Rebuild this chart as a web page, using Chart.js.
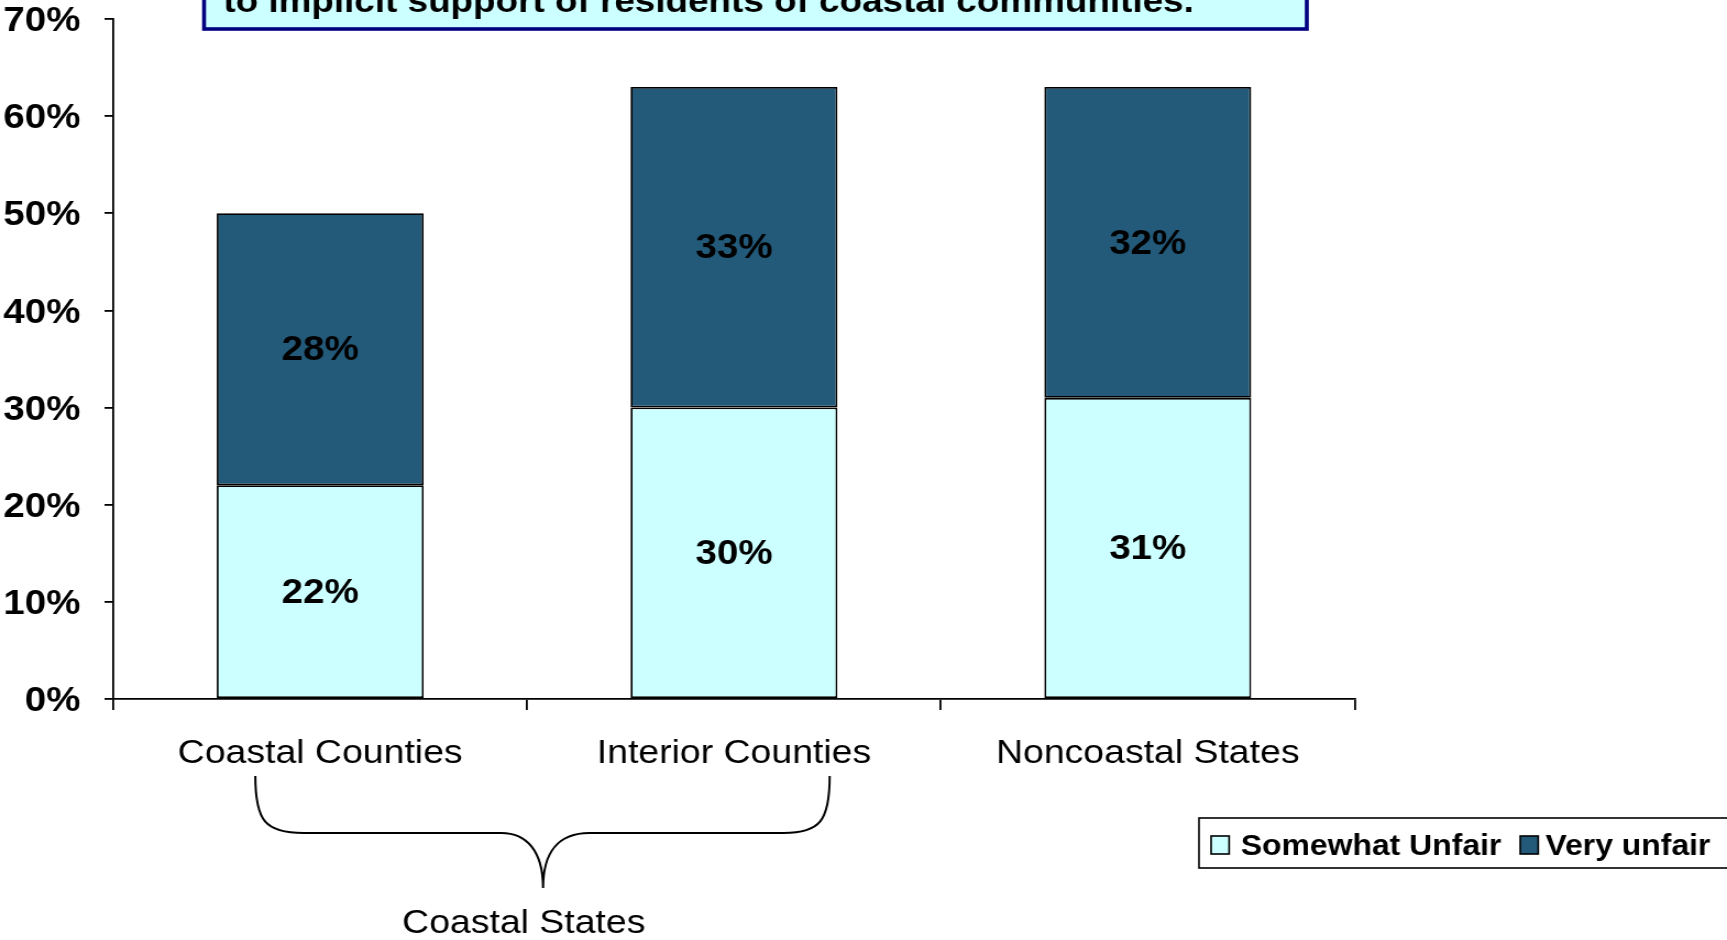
<!DOCTYPE html>
<html>
<head>
<meta charset="utf-8">
<script src="https://cdn.jsdelivr.net/npm/chart.js@4/dist/chart.umd.min.js"></script>
<style>
  body { margin: 0; background: #fff; }
</style>
</head>
<body>
<!-- the original picture is stretched sideways, so the canvas is too -->
<canvas id="chart" width="1570" height="940" style="display:block;width:1727px;height:940px"></canvas>
<script>
const categories = ['Coastal Counties', 'Interior Counties', 'Noncoastal States'];
const somewhatUnfair = [22, 30, 31];
const veryUnfair = [28, 33, 32];
const seriesNames = ['Somewhat Unfair', 'Very unfair'];
const yMax = 70;
const yStep = 10;
const titleLine = 'to implicit support of residents of coastal communities.';
const groupLabel = 'Coastal States';

const lightColor = '#CCFFFF';
const darkColor = '#235A79';
const font = '"Liberation Sans", Arial, sans-serif';

// box with the (cut off) question text at the top
const titleBox = {
  id: 'titleBox',
  afterDraw(chart) {
    const ctx = chart.ctx;
    ctx.save();
    ctx.fillStyle = lightColor;
    ctx.fillRect(185.5, -10, 1002.5, 39);
    ctx.strokeStyle = '#000080';
    ctx.lineWidth = 3.6;
    ctx.strokeRect(185.5, -10, 1002.5, 39);
    ctx.fillStyle = '#000';
    ctx.font = 'bold 33.5px ' + font;
    ctx.textBaseline = 'alphabetic';
    ctx.fillText(titleLine, 203, 12);
    ctx.restore();
  }
};

// percentage labels in the middle of every segment
const segmentLabels = {
  id: 'segmentLabels',
  afterDatasetsDraw(chart) {
    const ctx = chart.ctx;
    ctx.save();
    ctx.font = 'bold 35px ' + font;
    ctx.fillStyle = '#000';
    ctx.textAlign = 'center';
    ctx.textBaseline = 'middle';
    chart.data.datasets.forEach((ds, i) => {
      chart.getDatasetMeta(i).data.forEach((bar, j) => {
        const mid = (bar.y + bar.base) / 2;
        ctx.fillText(ds.data[j] + '%', bar.x, mid + 1.5);
      });
    });
    ctx.restore();
  }
};

// curly brace grouping the first two categories
const brace = {
  id: 'brace',
  afterDraw(chart) {
    const x = chart.scales.x;
    const c0 = x.getPixelForValue(0);
    const c1 = x.getPixelForValue(1);
    const mid = (c0 + c1) / 2;
    const left = c0 - 59;
    const right = c1 + 87;
    const tip = mid + 14.5;
    const top = x.bottom + 2;
    const flat = top + 57;
    const point = flat + 55;
    const ctx = chart.ctx;
    ctx.save();
    ctx.strokeStyle = '#000';
    ctx.lineWidth = 2;
    ctx.beginPath();
    ctx.moveTo(left, top);
    ctx.bezierCurveTo(left, flat - 12, left + 9, flat, left + 44, flat);
    ctx.lineTo(tip - 38, flat);
    ctx.bezierCurveTo(tip - 15, flat, tip, flat + 18, tip, point);
    ctx.bezierCurveTo(tip, flat + 18, tip + 15, flat, tip + 42, flat);
    ctx.lineTo(right - 42, flat);
    ctx.bezierCurveTo(right - 9, flat, right, flat - 12, right, top);
    ctx.stroke();
    ctx.font = '34px ' + font;
    ctx.fillStyle = '#000';
    ctx.textAlign = 'center';
    ctx.textBaseline = 'alphabetic';
    ctx.fillText(groupLabel, mid - 3, 933);
    ctx.restore();
  }
};

// legend in a bordered box at the bottom right
const legendBox = {
  id: 'legendBox',
  afterDraw(chart) {
    const ctx = chart.ctx;
    ctx.save();
    ctx.strokeStyle = '#000';
    ctx.lineWidth = 1.6;
    ctx.fillStyle = '#fff';
    ctx.fillRect(1090, 818, 500, 50);
    ctx.strokeRect(1090, 818, 500, 50);
    ctx.font = 'bold 29px ' + font;
    ctx.textBaseline = 'alphabetic';
    const items = [[1101, 1128], [1382, 1405]];
    chart.data.datasets.forEach((ds, i) => {
      const [sx, tx] = items[i];
      ctx.fillStyle = ds.backgroundColor;
      ctx.fillRect(sx, 836, 16.4, 18);
      ctx.strokeRect(sx, 836, 16.4, 18);
      ctx.fillStyle = '#000';
      ctx.fillText(ds.label, tx, 855);
    });
    ctx.restore();
  }
};

const ctx = document.getElementById('chart').getContext('2d');
const chart = new Chart(ctx, {
  type: 'bar',
  data: {
    labels: categories,
    datasets: [
      {
        label: seriesNames[0],
        data: somewhatUnfair,
        backgroundColor: lightColor,
        borderColor: '#000',
        borderWidth: 1.8,
        borderSkipped: false
      },
      {
        label: seriesNames[1],
        data: veryUnfair,
        backgroundColor: darkColor,
        borderColor: '#000',
        borderWidth: 1.8,
        borderSkipped: false
      }
    ]
  },
  options: {
    responsive: false,
    animation: false,
    devicePixelRatio: 1,
    layout: { padding: { top: 19, right: 338.5, bottom: 166, left: 0 } },
    datasets: { bar: { categoryPercentage: 0.5, barPercentage: 1 } },
    plugins: {
      legend: { display: false },
      tooltip: { enabled: false }
    },
    scales: {
      x: {
        stacked: true,
        grid: { drawOnChartArea: false, drawTicks: true, tickLength: 11, color: '#000', lineWidth: 1.8 },
        border: { display: true, color: '#000', width: 1.8 },
        ticks: { color: '#000', padding: 23, font: { family: font, size: 34 }, maxRotation: 0 },
        afterFit: scale => { scale.height = 75; }
      },
      y: {
        stacked: true,
        min: 0,
        max: yMax,
        grid: { drawOnChartArea: false, drawTicks: true, tickLength: 8, color: '#000', lineWidth: 1.8 },
        border: { display: true, color: '#000', width: 1.8 },
        ticks: {
          stepSize: yStep,
          color: '#000',
          padding: 22,
          labelOffset: 2.5,
          font: { family: font, size: 35, weight: 'bold', lineHeight: 1 },
          callback: v => v + '%'
        },
        afterFit: scale => {
          scale.width = 103;
          scale.paddingTop = 0;
          scale.paddingBottom = 0;
        }
      }
    }
  },
  plugins: [titleBox, segmentLabels, brace, legendBox]
});
</script>
</body>
</html>
